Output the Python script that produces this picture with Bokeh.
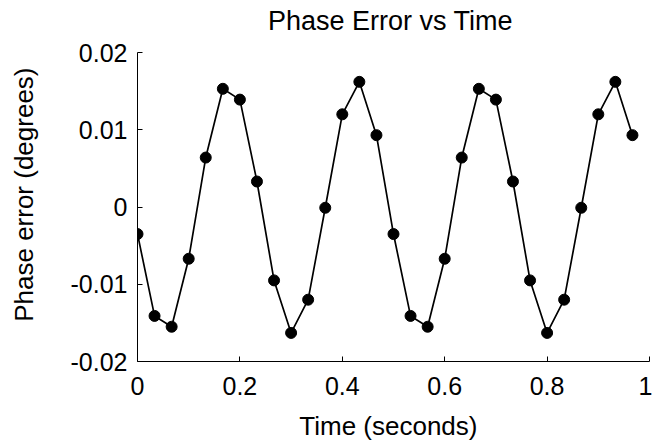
import math
from bokeh.plotting import figure
from bokeh.models import Range1d, FixedTicker, Label
from bokeh.embed import file_html
from bokeh.resources import INLINE

# ---- data ----
time_s = [0.0, 0.0333, 0.0667, 0.1, 0.1333, 0.1667, 0.2, 0.2333, 0.2667, 0.3,
          0.3333, 0.3667, 0.4, 0.4333, 0.4667, 0.5, 0.5333, 0.5667, 0.6, 0.6333,
          0.6667, 0.7, 0.7333, 0.7667, 0.8, 0.8333, 0.8667, 0.9, 0.9333, 0.9667]
phase_err = [-0.0035, -0.0141, -0.0155, -0.0067, 0.0064, 0.0153, 0.0139, 0.0033,
             -0.0095, -0.0163, -0.0120, -0.0001, 0.0120, 0.0162, 0.0093,
             -0.0035, -0.0141, -0.0155, -0.0067, 0.0064, 0.0153, 0.0139, 0.0033,
             -0.0095, -0.0163, -0.0120, -0.0001, 0.0120, 0.0162, 0.0093]
x_ticks = [0, 0.2, 0.4, 0.6, 0.8, 1]
x_tick_labels = ["0", "0.2", "0.4", "0.6", "0.8", "1"]
y_ticks = [-0.02, -0.01, 0, 0.01, 0.02]
y_tick_labels = ["-0.02", "-0.01", "0", "0.01", "0.02"]
title_text = "Phase Error vs Time"
x_label_text = "Time (seconds)"
y_label_text = "Phase error (degrees)"

FONT = "Liberation Sans"

p = figure(width=652, height=440, output_backend="svg", toolbar_location=None,
           x_range=Range1d(0, 1), y_range=Range1d(-0.02, 0.02),
           min_border_left=137, min_border_right=3,
           min_border_top=52, min_border_bottom=79)

p.background_fill_color = "white"
p.border_fill_color = "white"
p.outline_line_color = None
p.xgrid.visible = False
p.ygrid.visible = False

for ax in (p.xaxis[0], p.yaxis[0]):
    ax.axis_line_color = "black"
    ax.axis_line_width = 1
    ax.major_tick_in = 5
    ax.major_tick_out = 0
    ax.minor_tick_line_color = None
    ax.major_tick_line_color = "black"
    ax.major_label_text_font = FONT
    ax.major_label_text_font_size = "25px"
    ax.major_label_text_color = "black"

p.xaxis[0].ticker = FixedTicker(ticks=x_ticks)
p.xaxis[0].major_label_overrides = dict(zip(x_ticks, x_tick_labels))
p.xaxis[0].major_label_standoff = 15

p.yaxis[0].ticker = FixedTicker(ticks=y_ticks)
p.yaxis[0].major_label_overrides = dict(zip(y_ticks, y_tick_labels))
p.yaxis[0].major_label_standoff = 10

# title and axis titles placed in the side panels (not clipped to the frame)
p.add_layout(Label(x=0.494, y=0.02408, text=title_text, text_align="center",
                   text_baseline="alphabetic", text_font=FONT,
                   text_font_size="27px", text_color="black"), "above")
p.add_layout(Label(x=0.49, y=-0.02835, text=x_label_text, text_align="center",
                   text_baseline="alphabetic", text_font=FONT,
                   text_font_size="26px", text_color="black"), "below")
p.add_layout(Label(x=-0.2215, y=0.0016, text=y_label_text, angle=math.pi / 2,
                   text_align="center", text_baseline="alphabetic",
                   text_font=FONT, text_font_size="26px", text_color="black"),
             "left")

p.line(time_s, phase_err, line_color="black", line_width=1.7)
p.scatter(time_s, phase_err, size=11, fill_color="black", line_color="black")

open("out.html", "w").write(file_html(p, INLINE))
